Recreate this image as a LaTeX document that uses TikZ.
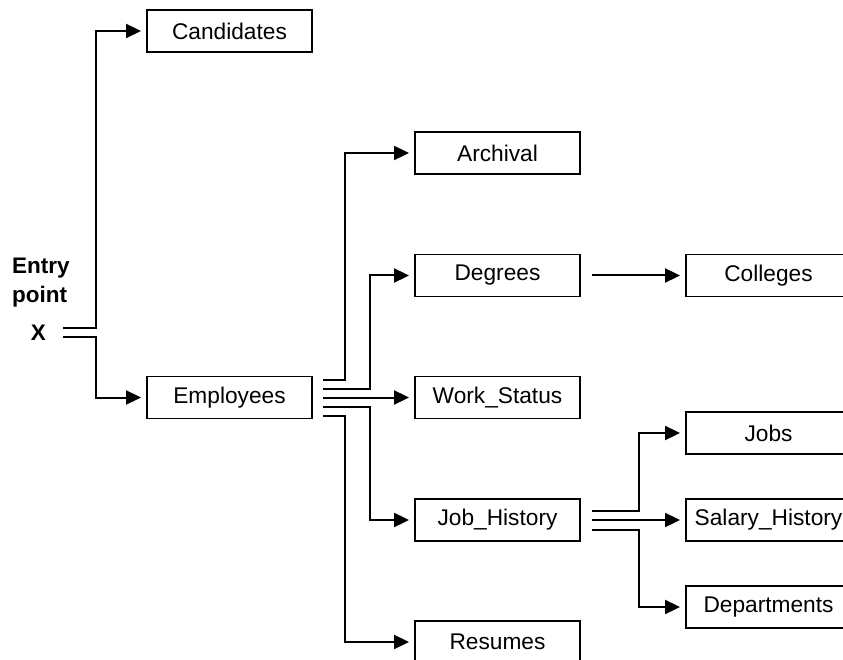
\documentclass[tikz,border=0pt]{standalone}
\usepackage{fontspec}
\setmainfont{Liberation Sans}
\usetikzlibrary{arrows.meta,calc}

\tikzset{
  table/.style={draw, line width=1.9pt, minimum width=165pt, minimum height=42pt,
                inner sep=0pt, font=\fontsize{22.7}{26}\selectfont},
  link/.style={line width=2pt, -{Triangle[length=15pt,width=14pt]}, shorten >=5pt},
  lbl/.style={font=\fontsize{22.5}{26}\selectfont\bfseries, inner sep=0pt, anchor=base west}
}

\begin{document}
\begin{tikzpicture}[x=1pt,y=-1pt]
  \useasboundingbox (0,0) rectangle (843,660);
  \clip (0,0) rectangle (843,660);

  % entry point label
  \node[lbl] (entry) at (12,274) {Entry};
  \node[lbl] (point) at (12,302) {point};
  \node[lbl, anchor=base] (x) at (38.5,340) {X};
  \coordinate (xo) at (63,332.5);

  % tables
  \node[table] (cand) at (229.5,31)    {Candidates};
  \node[table] (emp)  at (229.5,397.5) {Employees};
  \node[table] (arch) at (497.5,153)   {Archival};
  \node[table] (deg)  at (497.5,275.5) {Degrees};
  \node[table] (work) at (497.5,397.5) {Work\_Status};
  \node[table] (jobh) at (497.5,520)   {Job\_History};
  \node[table] (res)  at (497.5,642)   {Resumes};
  \node[table] (coll) at (768.5,275.5) {Colleges};
  \node[table] (jobs) at (768.5,433)   {Jobs};
  \node[table] (sal)  at (768.5,520)   {Salary\_History};
  \node[table] (dept) at (768.5,607)   {Departments};

  % from the entry point
  \draw[link] ($(xo)+(0,-4.5)$) -- ++(33,0) |- (cand.west);
  \draw[link] ($(xo)+(0,4.5)$)  -- ++(33,0) |- (emp.west);

  % from Employees
  \draw[link] ($(emp.east)+(10,-18)$) -- ++(22,0) |- (arch.west);
  \draw[link] ($(emp.east)+(10,-9)$)  -- ++(47,0) |- (deg.west);
  \draw[link] ($(emp.east)+(10,0)$)   -- (work.west);
  \draw[link] ($(emp.east)+(10,9)$)   -- ++(47,0) |- (jobh.west);
  \draw[link] ($(emp.east)+(10,18)$)  -- ++(22,0) |- (res.west);

  % from Degrees
  \draw[link] ($(deg.east)+(11,0)$) -- (coll.west);

  % from Job_History
  \draw[link] ($(jobh.east)+(11,-9.5)$) -- ++(47,0) |- (jobs.west);
  \draw[link] ($(jobh.east)+(11,0)$)    -- (sal.west);
  \draw[link] ($(jobh.east)+(11,9.5)$)  -- ++(47,0) |- (dept.west);
\end{tikzpicture}
\end{document}
